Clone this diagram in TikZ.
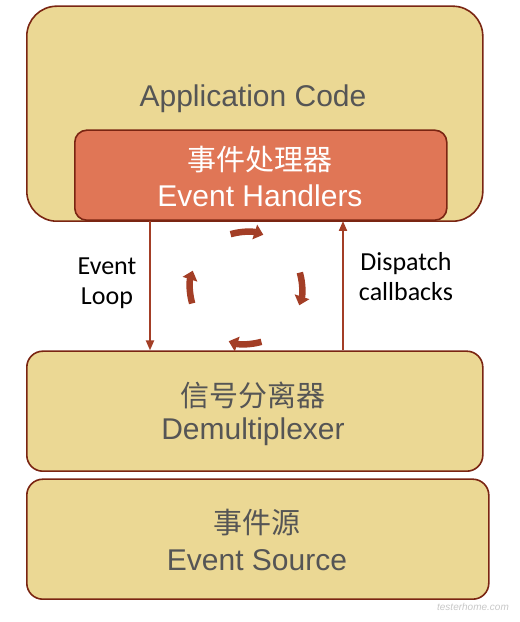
\documentclass[tikz,border=0pt]{standalone}
\usepackage{fontspec}
\setmainfont{Liberation Sans}
\newfontfamily\cjk{Noto Sans CJK SC}
\newfontfamily\lbl{Carlito}
\usetikzlibrary{arrows.meta}
\definecolor{sand}{HTML}{EBD894}
\definecolor{brownline}{HTML}{7A2512}
\definecolor{coral}{HTML}{E07656}
\definecolor{arrowred}{HTML}{A33E26}
\definecolor{txtgray}{HTML}{555555}
\tikzset{
  box/.style={draw=brownline, line width=1.6pt, fill=sand, inner sep=0pt},
  hbox/.style={draw=brownline, line width=1.6pt, fill=coral, inner sep=0pt, rounded corners=12pt},
  maintext/.style={text=txtgray, font=\fontsize{30}{35}\selectfont, inner sep=0pt},
  cjktext/.style={text=txtgray, font=\cjk\fontsize{29}{35}\selectfont, inner sep=0pt},
  lbltext/.style={text=black, font=\lbl\fontsize{26}{30}\selectfont, align=center, inner sep=0pt},
  flow/.style={draw=arrowred, line width=2pt, -{Triangle[length=10pt,width=8pt]}},
  cyc/.style={draw=arrowred, line width=6.5pt, -{Triangle[length=9pt,width=15pt]}},
}
\begin{document}
\begin{tikzpicture}[x=1pt,y=1pt]
\useasboundingbox (0,0) rectangle (520,622);
% boxes
\node[box, rounded corners=30pt, minimum width=456pt, minimum height=215pt, anchor=south west] (app) at (26,400) {};
\node[hbox, minimum width=372pt, minimum height=90pt, anchor=south west] (eh) at (74,401) {};
\node[box, rounded corners=16pt, minimum width=456pt, minimum height=120pt, anchor=south west] (demux) at (26,150) {};
\node[box, rounded corners=16pt, minimum width=462pt, minimum height=120pt, anchor=south west] (src) at (26,22) {};
% texts
\node[maintext] (apptxt) at (253,523) {Application Code};
\node[cjktext, text=white] (ehcn) at (260,462) {事件处理器};
\node[maintext, text=white] (ehen) at (260,426) {Event Handlers};
\node[cjktext] (dmcn) at (253,227) {信号分离器};
\node[maintext] (dmen) at (253,190) {Demultiplexer};
\node[cjktext] (srccn) at (257,99) {事件源};
\node[maintext] (srcen) at (257,62) {Event Source};
% connectors
\draw[flow] (eh.south -| 150,0) -- (demux.north -| 150,0);
\draw[flow] (demux.north -| 343,0) -- (eh.south -| 343,0);
\node[lbltext] (lloop) at (107,339) {Event\\Loop};
\node[lbltext] (ldisp) at (406,345) {Dispatch\\callbacks};
% cycle arrows
\coordinate (c) at (246,334);
\draw[cyc] ([shift={(106:56)}]c) arc[start angle=106, end angle=72, radius=56];
\draw[cyc] ([shift={(16:56)}]c) arc[start angle=16, end angle=-18, radius=56];
\draw[cyc] ([shift={(-74:56)}]c) arc[start angle=-74, end angle=-108, radius=56];
\draw[cyc] ([shift={(196:56)}]c) arc[start angle=196, end angle=162, radius=56];
% watermark
\node[text=black!22, font=\fontsize{10}{12}\selectfont\itshape, inner sep=0pt] (wm) at (473,15) {testerhome.com};
\end{tikzpicture}
\end{document}
